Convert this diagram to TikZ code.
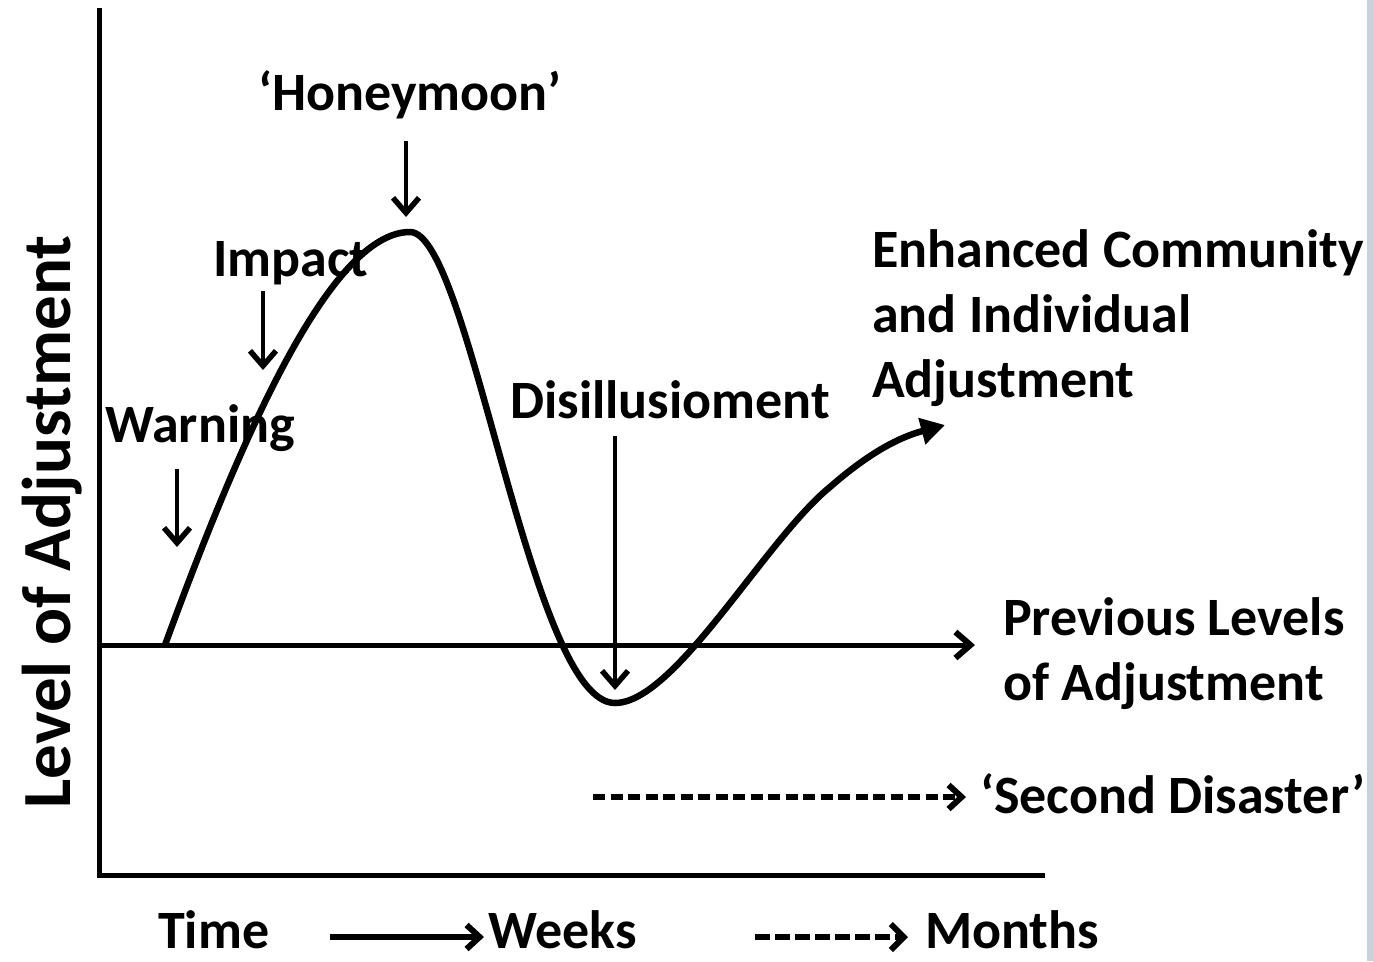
\documentclass[tikz,border=0pt]{standalone}
\usepackage{fontspec}
\setmainfont{Carlito}
\usetikzlibrary{arrows.meta}
\definecolor{edgegrey}{RGB}{200,210,220}
\tikzset{
  lbl/.style={font=\fontsize{54}{65}\selectfont\bfseries, inner sep=0pt},
  axis/.style={line width=5pt},
  barb/.style={-{Straight Barb[length=15pt,width=26pt,line width=5.5pt]}},
  pointer/.style={line width=4.5pt, barb},
  dasharrow/.style={line width=6pt, dash pattern=on 12pt off 5.5pt, -{Straight Barb[length=13pt,width=24pt,line width=6pt]}},
}
\begin{document}
\begin{tikzpicture}[x=1pt,y=-1pt]
\useasboundingbox (0,0) rectangle (1373,961);
\fill[edgegrey] (1367,0) rectangle (1373,961);
% axes
\coordinate (ytop) at (99,10);
\coordinate (origin) at (99,875);
\coordinate (xend) at (1042,875);
\draw[axis, line cap=rect] (ytop) -- (origin) -- (xend);
% previous levels line
\coordinate (pl0) at (100,645);
\coordinate (pl1) at (975,645);
\draw[axis, -{Straight Barb[length=15pt,width=26pt,line width=6pt]}] (pl0) -- (pl1);
% curve
\coordinate (c0) at (165,645);
\coordinate (peak) at (410,232);
\coordinate (low) at (615,703);
\coordinate (mid) at (830,487);
\coordinate (cend) at (945,425);
\draw[line width=6.5pt, -{Triangle[length=24pt,width=26pt]}]
  (c0) .. controls (240,440) and (330,232) .. (peak)
  .. controls (470,232) and (530,703) .. (low)
  .. controls (675,703) and (765,540) .. (mid)
  .. controls (870,452) and (900,437) .. (cend);
% labels
\node[lbl, anchor=base] (honey) at (410,110) {‘Honeymoon’};
\node[lbl, anchor=base west] (impact) at (213,276) {Impact};
\node[lbl, anchor=base west] (warning) at (105,442) {Warning};
\node[lbl, anchor=base west] (disill) at (510,418) {Disillusioment};
\node[lbl, anchor=base west, align=left] (enh) at (872,397) {Enhanced Community\\and Individual\\Adjustment};
\node[lbl, anchor=base west, align=left] (prev) at (1003,700) {Previous Levels\\of Adjustment};
\node[lbl, anchor=base west] (second) at (980,813) {‘Second Disaster’};
\node[font=\fontsize{69}{80}\selectfont\bfseries, inner sep=0pt, rotate=90, anchor=base] (ylab) at (70,522) {Level of Adjustment};
\node[lbl, anchor=base west] (time) at (158,948) {Time};
\node[lbl, anchor=base west] (weeks) at (488,948) {Weeks};
\node[lbl, anchor=base west] (months) at (925,948) {Months};
% pointer arrows
\coordinate (h0) at (406,141); \coordinate (h1) at (406,217);
\coordinate (i0) at (263,291); \coordinate (i1) at (263,370);
\coordinate (w0) at (177,469); \coordinate (w1) at (177,547);
\coordinate (d0) at (615,436); \coordinate (d1) at (615,690);
\draw[pointer] (h0) -- (h1);
\draw[pointer] (i0) -- (i1);
\draw[pointer] (w0) -- (w1);
\draw[pointer] (d0) -- (d1);
% second disaster dashed
\coordinate (s0) at (593,797); \coordinate (s1) at (966,797);
\draw[dasharrow] (s0) -- (s1);
% bottom arrows
\coordinate (t0) at (330,937); \coordinate (t1) at (484,937);
\draw[line width=6pt, -{Straight Barb[length=13pt,width=24pt,line width=6pt]}] (t0) -- (t1);
\coordinate (m0) at (755,937); \coordinate (m1) at (908,937);
\draw[line width=6pt, dash pattern=on 15pt off 5pt, -{Straight Barb[length=13pt,width=26pt,line width=6pt]}] (m0) -- (m1);
\end{tikzpicture}
\end{document}
